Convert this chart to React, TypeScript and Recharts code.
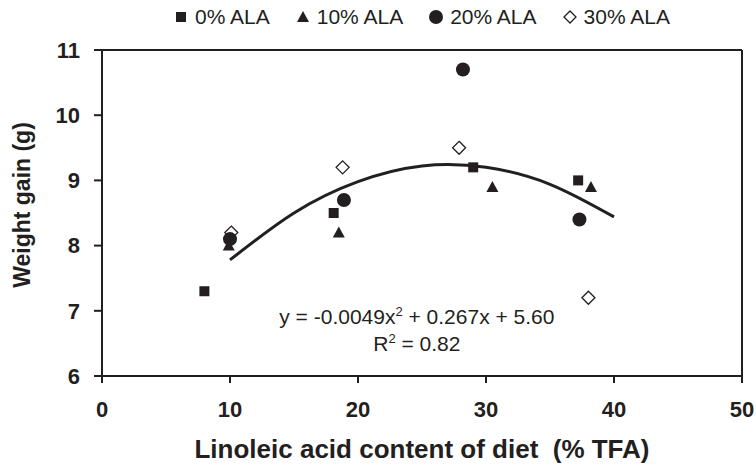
import React from 'react';
import { ComposedChart, Scatter, Line, XAxis, YAxis, ReferenceLine, ReferenceDot } from 'recharts';

// points: x = linoleic acid (% TFA), y = weight gain (g)
const ala0 = [
  { x: 8.0, y: 7.3 },
  { x: 18.1, y: 8.5 },
  { x: 29.0, y: 9.2 },
  { x: 37.2, y: 9.0 },
];
const ala10 = [
  { x: 9.9, y: 8.0 },
  { x: 18.5, y: 8.2 },
  { x: 30.5, y: 8.9 },
  { x: 38.2, y: 8.9 },
];
const ala20 = [
  { x: 10.0, y: 8.1 },
  { x: 18.9, y: 8.7 },
  { x: 28.2, y: 10.7 },
  { x: 37.3, y: 8.4 },
];
const ala30 = [
  { x: 10.1, y: 8.2 },
  { x: 18.8, y: 9.2 },
  { x: 27.9, y: 9.5 },
  { x: 38.0, y: 7.2 },
];
// fitted curve as drawn in the figure
const trend = [
  { x: 10, y: 7.78 },
  { x: 15, y: 8.5 },
  { x: 20, y: 8.98 },
  { x: 25, y: 9.22 },
  { x: 30, y: 9.2 },
  { x: 35, y: 8.94 },
  { x: 40, y: 8.44 },
];
const xTicks = [0, 10, 20, 30, 40, 50];
const yTicks = [6, 7, 8, 9, 10, 11];
const legendLabels = ['0% ALA', '10% ALA', '20% ALA', '30% ALA'];

const ink = '#231f20';
const font = '"Liberation Sans", Arial, sans-serif';

const SquareDot = ({ cx, cy }: any) => <rect x={cx - 5} y={cy - 5} width={10} height={10} fill={ink} />;
const TriangleDot = ({ cx, cy }: any) => (
  <path d={`M${cx},${cy - 6} L${cx + 6},${cy + 5} L${cx - 6},${cy + 5} Z`} fill={ink} />
);
const CircleDot = ({ cx, cy }: any) => <circle cx={cx} cy={cy} r={7} fill={ink} />;
const DiamondDot = ({ cx, cy }: any) => (
  <path d={`M${cx},${cy - 6.5} L${cx + 6.5},${cy} L${cx},${cy + 6.5} L${cx - 6.5},${cy} Z`} fill="#fff" stroke={ink} strokeWidth={1.3} />
);

const legendIcons = [
  <rect x={2} y={2} width={10} height={10} fill={ink} />,
  <path d="M7,1 L13,12 L1,12 Z" fill={ink} />,
  <circle cx={7} cy={7} r={7} fill={ink} />,
  <path d="M7,1 L13,7 L7,13 L1,7 Z" fill="#fff" stroke={ink} strokeWidth={1.3} />,
];

const Equation = ({ cx, cy }: any) => (
  <text x={cx} y={cy} textAnchor="middle" fontFamily={font} fontSize={21} fill={ink}>
    <tspan x={cx}>
      y = -0.0049x<tspan dy={-8} fontSize={13}>2</tspan>
      <tspan dy={8}> + 0.267x + 5.60</tspan>
    </tspan>
    <tspan x={cx} dy={27}>
      R<tspan dy={-8} fontSize={13}>2</tspan>
      <tspan dy={8}> = 0.82</tspan>
    </tspan>
  </text>
);

const YTitle = ({ viewBox }: any) => {
  const x = viewBox.x + 22;
  const y = viewBox.y + viewBox.height / 2 - 8;
  return (
    <text x={x} y={y} transform={`rotate(-90 ${x} ${y})`} textAnchor="middle" dominantBaseline="central"
      fontFamily={font} fontWeight="bold" fontSize={23} fill={ink}>
      Weight gain (g)
    </text>
  );
};

export default function App() {
  const tickStyle = { fontFamily: font, fontWeight: 'bold', fontSize: 22, fill: ink };
  return (
    <div style={{ position: 'absolute', left: 0, top: 0, width: 756, height: 465, background: '#fff' }}>
      <div style={{
        position: 'absolute', left: 102, width: 640, top: 5, display: 'flex', justifyContent: 'center',
        gap: 26, fontFamily: font, fontSize: 21, color: ink, alignItems: 'center',
      }}>
        {legendLabels.map((l, i) => (
          <div key={l} style={{ display: 'flex', alignItems: 'center', gap: 7 }}>
            <svg width={14} height={14}>{legendIcons[i]}</svg>
            <span>{l}</span>
          </div>
        ))}
      </div>
      <ComposedChart width={756} height={465} margin={{ top: 50, right: 14, left: 0, bottom: 0 }}>
        <XAxis dataKey="x" type="number" domain={[0, 50]} ticks={xTicks} height={89}
          stroke={ink} strokeWidth={2} tickSize={7} tickMargin={18} tick={tickStyle}
          label={{ value: 'Linoleic acid content of diet\u00a0 (% TFA)', position: 'insideBottom', offset: 7,
            style: { fontFamily: font, fontWeight: 'bold', fontSize: 26, fill: ink } }} />
        <YAxis type="number" domain={[6, 11]} ticks={yTicks} width={102} interval={0}
          stroke={ink} strokeWidth={2} tickSize={8} tickMargin={14} tick={tickStyle}
          label={<YTitle />} />
        <ReferenceLine y={11} stroke={ink} strokeWidth={2} />
        <ReferenceLine x={50} stroke={ink} strokeWidth={2} />
        <Line data={trend} dataKey="y" type="natural" stroke={ink} strokeWidth={3} dot={false}
          activeDot={false} isAnimationActive={false} />
        <Scatter data={ala30} dataKey="y" shape={DiamondDot} isAnimationActive={false} />
        <Scatter data={ala10} dataKey="y" shape={TriangleDot} isAnimationActive={false} />
        <Scatter data={ala0} dataKey="y" shape={SquareDot} isAnimationActive={false} />
        <Scatter data={ala20} dataKey="y" shape={CircleDot} isAnimationActive={false} />
        <ReferenceDot x={24.6} y={6.8} r={0} shape={Equation} />
      </ComposedChart>
    </div>
  );
}
